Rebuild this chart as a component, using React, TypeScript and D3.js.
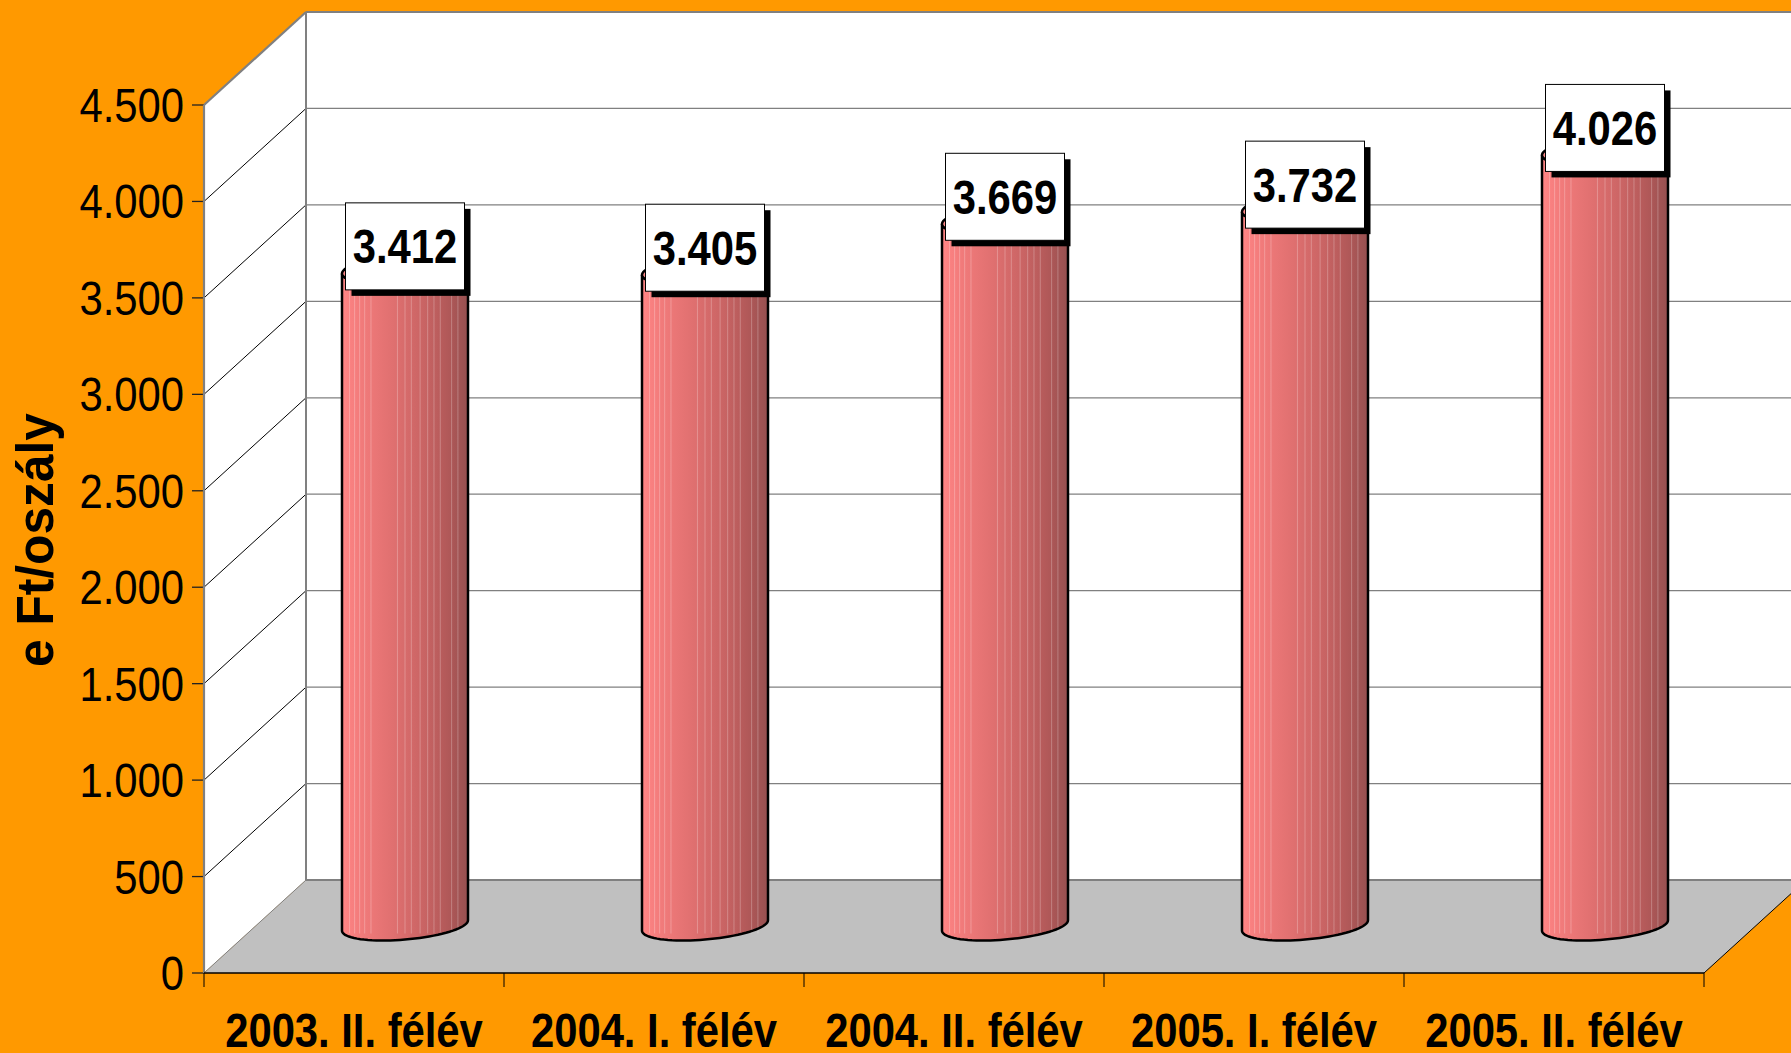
import React from "react";
import * as d3 from "d3";

const categories = ["2003. II. félév", "2004. I. félév", "2004. II. félév", "2005. I. félév", "2005. II. félév"];
const values = [3412, 3405, 3669, 3732, 4026];
const yTicks = [0, 500, 1000, 1500, 2000, 2500, 3000, 3500, 4000, 4500];
const yTitle = "e Ft/oszály";

const W = 1791, H = 1053;
const X0 = 204, X1 = 1704, Y0 = 973, Ytop = 105;
const DX = 102, DY = -93; // depth vector
const stripeFracs = [0.06, 0.1, 0.14, 0.18, 0.23, 0.44, 0.5, 0.55, 0.62, 0.68, 0.73, 0.78, 0.87, 0.92];

const fmt = (v: number) => {
  const s = String(v);
  return s.length > 3 ? s.slice(0, s.length - 3) + "." + s.slice(-3) : s;
};

export default function App() {
  const y = d3.scaleLinear().domain([0, 4500]).range([Y0, Ytop]);
  const x = d3.scaleBand<string>().domain(categories).range([X0, X1]).paddingInner(0).paddingOuter(0);
  const bw = x.bandwidth();
  const R = 63, A = Math.sqrt(63 * 63 - 22 * 22), B = 22, C = 15;
  const t0 = Math.atan2(B, A);
  const mid = { dx: DX / 2, dy: DY / 2 };

  const ell = (cx: number, cy: number, t: number) => [cx + A * Math.cos(t) + B * Math.sin(t), cy - C * Math.sin(t)];
  const halfFront = (cx: number, cy: number, reverse: boolean) => {
    const pts: number[][] = [];
    const n = 40;
    for (let i = 0; i <= n; i++) {
      const t = Math.PI + t0 + (Math.PI * i) / n;
      pts.push(ell(cx, cy, t));
    }
    if (reverse) pts.reverse();
    return pts;
  };
  const fullEll = (cx: number, cy: number) => {
    const pts: number[][] = [];
    for (let i = 0; i < 80; i++) pts.push(ell(cx, cy, (2 * Math.PI * i) / 80));
    return "M" + pts.map((p) => p.join(",")).join("L") + "Z";
  };

  const line = d3.line();

  return (
    <svg width={W} height={H} style={{ position: "absolute", left: 0, top: 0, display: "block" }}
      fontFamily="'Liberation Sans', Arial, sans-serif">
      <defs>
        <linearGradient id="cyl" x1="0" x2="1" y1="0" y2="0">
          <stop offset="0" stopColor="#ff8585" />
          <stop offset="0.15" stopColor="#f27b7b" />
          <stop offset="0.4" stopColor="#e07070" />
          <stop offset="0.65" stopColor="#c96464" />
          <stop offset="0.85" stopColor="#b05858" />
          <stop offset="1" stopColor="#965050" />
        </linearGradient>
      </defs>
      <rect x={0} y={0} width={W} height={H} fill="#ff9900" />
      {/* back wall */}
      <rect x={X0 + DX} y={Ytop + DY} width={W - X0 - DX} height={Y0 - Ytop} fill="#ffffff" />
      {/* left wall */}
      <polygon points={`${X0},${Ytop} ${X0 + DX},${Ytop + DY} ${X0 + DX},${Y0 + DY} ${X0},${Y0}`} fill="#ffffff" />
      {/* floor */}
      <polygon points={`${X0},${Y0} ${X1},${Y0} ${X1 + DX},${Y0 + DY} ${X0 + DX},${Y0 + DY}`} fill="#c0c0c0" />
      {/* gridlines */}
      {yTicks.map((t) => (
        <g key={t}>
          {t > 0 && <line x1={X0} y1={y(t)} x2={X0 + DX} y2={y(t) + DY} stroke="#000" strokeWidth={1} />}
          <line x1={X0 + DX} y1={y(t) + DY} x2={W} y2={y(t) + DY} stroke="#808080" strokeWidth={t === 0 || t === 4500 ? 2 : 1.3} />
          <line x1={X0 - 12} y1={y(t)} x2={X0} y2={y(t)} stroke="#222" strokeWidth={1.3} />
          <text transform={`translate(${X0 - 20},${y(t) + 17}) scale(0.88,1)`} textAnchor="end" fontSize={47.5} fill="#000">
            {fmt(t)}
          </text>
        </g>
      ))}
      {/* wall edges */}
      <line x1={X0 + DX} y1={Ytop + DY} x2={X0 + DX} y2={Y0 + DY} stroke="#808080" strokeWidth={2} />
      <line x1={X0} y1={Ytop} x2={X0 + DX} y2={Ytop + DY} stroke="#808080" strokeWidth={2.2} />
      <line x1={X0} y1={Ytop} x2={X0} y2={Y0} stroke="#808080" strokeWidth={2.2} />
      <line x1={X0} y1={Y0} x2={X0 + DX} y2={Y0 + DY} stroke="#808080" strokeWidth={1} />
      <line x1={X1} y1={Y0} x2={X1 + DX} y2={Y0 + DY} stroke="#000" strokeWidth={1} />
      <line x1={X0} y1={Y0} x2={X1} y2={Y0} stroke="#000" strokeWidth={1.3} />
      {/* x ticks */}
      {[...categories.map((c) => x(c) as number), X1].map((v, i) => (
        <line key={i} x1={v} y1={Y0} x2={v} y2={Y0 + 14} stroke="#000" strokeWidth={1} />
      ))}
      {/* cylinders */}
      {categories.map((c, i) => {
        const cx = (x(c) as number) + bw / 2 + mid.dx;
        const yb = y(0) + mid.dy - 1;
        const yt = y(values[i]) + mid.dy;
        const bottom = halfFront(cx, yb, false);
        const topRev = halfFront(cx, yt, true);
        const body = "M" + [...bottom, ...topRev].map((p) => p.join(",")).join("L") + "Z";
        return (
          <g key={c}>
            <path d={body} fill="url(#cyl)" />
            {stripeFracs.map((f, k) => {
              const sx = cx - R + f * 2 * R;
              return <line key={k} x1={sx} x2={sx} y1={yt} y2={yb + 8} stroke="#ffffff" strokeOpacity={0.25} strokeWidth={1} />;
            })}
            <path d={body} fill="none" stroke="#000" strokeWidth={2.5} />
            <path d={fullEll(cx, yt)} fill="#ff8a8a" stroke="#000" strokeWidth={2.5} />
          </g>
        );
      })}
      {/* labels */}
      {categories.map((c, i) => {
        const cx = (x(c) as number) + bw / 2 + mid.dx;
        const cy = y(values[i]) + mid.dy - 22;
        const bwid = 119, bh = 87;
        return (
          <g key={"l" + c}>
            <rect x={cx - bwid / 2 + 6} y={cy - bh / 2 + 6} width={bwid} height={bh} fill="#000" />
            <rect x={cx - bwid / 2} y={cy - bh / 2} width={bwid} height={bh} fill="#fff" stroke="#000" strokeWidth={1} />
            <text transform={`translate(${cx},${cy + 17}) scale(0.88,1)`} textAnchor="middle" fontSize={47.5} fontWeight="bold" fill="#000">
              {fmt(values[i])}
            </text>
          </g>
        );
      })}
      {/* category labels */}
      {categories.map((c) => (
        <text key={"c" + c} transform={`translate(${(x(c) as number) + bw / 2},1047) scale(0.87,1)`} textAnchor="middle"
          fontSize={48} fontWeight="bold" fill="#000">
          {c}
        </text>
      ))}
      {/* y title */}
      <text transform={`translate(53,540) rotate(-90)`} textAnchor="middle" fontSize={52} fontWeight="bold" fill="#000"
        textLength={254} lengthAdjust="spacingAndGlyphs">
        {yTitle}
      </text>
    </svg>
  );
}
